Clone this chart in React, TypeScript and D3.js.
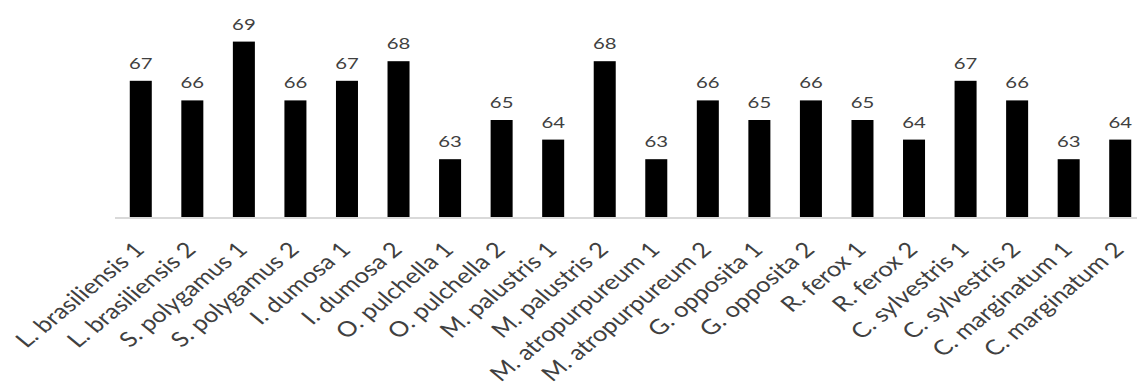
import React from "react";
import * as d3 from "d3";

const categories: string[] = [
  "L. brasiliensis 1",
  "L. brasiliensis 2",
  "S. polygamus 1",
  "S. polygamus 2",
  "I. dumosa 1",
  "I. dumosa 2",
  "O. pulchella 1",
  "O. pulchella 2",
  "M. palustris 1",
  "M. palustris 2",
  "M. atropurpureum 1",
  "M. atropurpureum 2",
  "G. opposita 1",
  "G. opposita 2",
  "R. ferox 1",
  "R. ferox 2",
  "C. sylvestris 1",
  "C. sylvestris 2",
  "C. marginatum 1",
  "C. marginatum 2",
];

const values: number[] = [67, 66, 69, 66, 67, 68, 63, 65, 64, 68, 63, 66, 65, 66, 65, 64, 67, 66, 63, 64];

const yDomain: [number, number] = [60, 70];

const W = 1137;
const H = 390;
const VALUE_STRETCH = 1.27;
const TICK_STRETCH = 1.22;
const TEXT = "#404040";

export default function App() {
  const x = d3
    .scaleBand<string>()
    .domain(categories)
    .range([115, 1146])
    .paddingInner(0.573)
    .paddingOuter(0.2865);
  const y = d3.scaleLinear().domain(yDomain).range([218, 22]);
  const base = y(yDomain[0]);

  return (
    <svg
      width={W}
      height={H}
      style={{ position: "absolute", left: 0, top: 0, background: "#fff" }}
    >
      <rect width={W} height={H} fill="#fff" />
      {categories.map((c, i) => {
        const bx = x(c)!;
        const bw = x.bandwidth();
        const top = y(values[i]);
        const cx = bx + bw / 2;
        return (
          <g key={c}>
            <rect x={bx} y={top} width={bw} height={base - top} fill="#000" />
            <text
              transform={`translate(${cx},${top - 12}) scale(${VALUE_STRETCH},1)`}
              textAnchor="middle"
              fontFamily="Lato, 'Open Sans', sans-serif"
              fontSize={16}
              fill={TEXT}
            >
              {values[i]}
            </text>
            <text
              transform={`translate(${cx + 5},${base + 33}) scale(${TICK_STRETCH},1) rotate(-45)`}
              textAnchor="end"
              fontFamily="Lato, 'Open Sans', sans-serif"
              fontSize={21}
              fill={TEXT}
            >
              {c}
            </text>
          </g>
        );
      })}
      <line x1={115} x2={W} y1={base} y2={base} stroke="#d9d9d9" strokeWidth={2} />
    </svg>
  );
}
